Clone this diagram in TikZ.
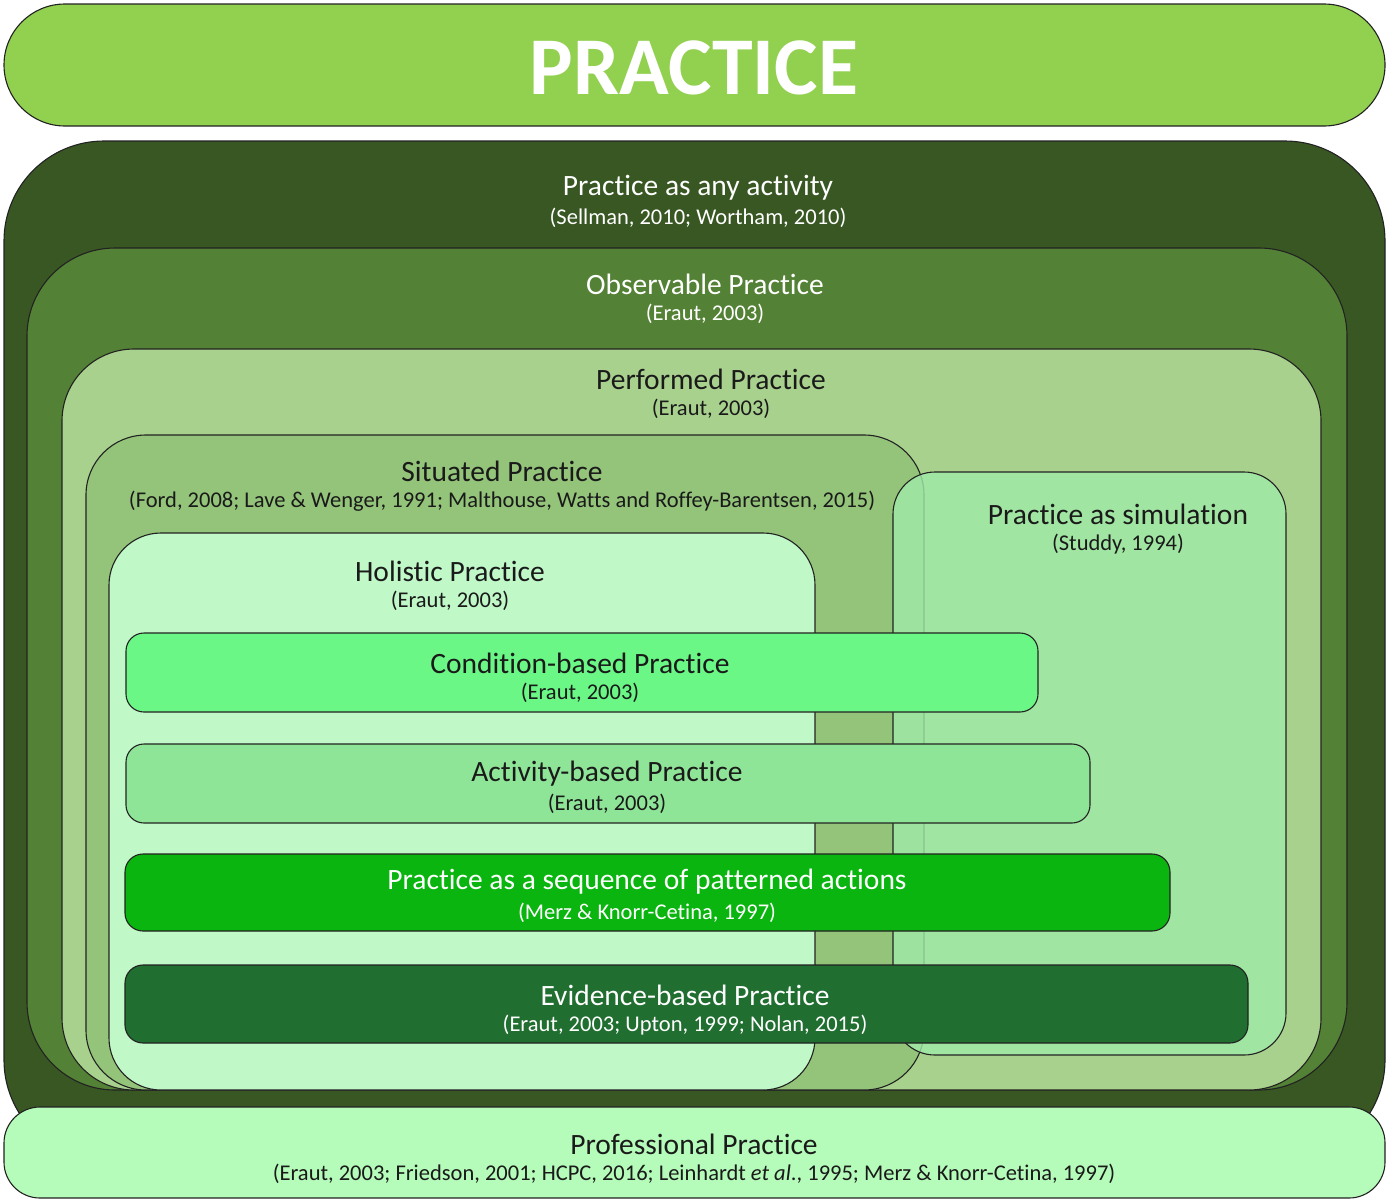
\documentclass[tikz,border=0pt]{standalone}
\usepackage{fontspec}
\setmainfont{Carlito}[Ligatures=NoCommon]
\definecolor{cBanner}{HTML}{92D050}
\definecolor{cAny}{HTML}{385723}
\definecolor{cObs}{HTML}{538135}
\definecolor{cPerf}{HTML}{A9D18E}
\definecolor{cSit}{HTML}{93C47A}
\definecolor{cHol}{HTML}{C0F8C8}
\definecolor{cSim}{RGB}{160,234,168}
\definecolor{cCond}{HTML}{6AF786}
\definecolor{cAct}{HTML}{8FE597}
\definecolor{cSeq}{HTML}{09B50E}
\definecolor{cEvid}{HTML}{206E30}
\definecolor{cProf}{HTML}{B5FBB9}
\definecolor{cLine}{HTML}{222222}
\definecolor{cTxt}{HTML}{1A1A1A}
\begin{document}
\begin{tikzpicture}[x=1pt,y=-1pt]
\tikzset{
  box/.style={draw=cLine, line width=1.1pt},
  ttl/.style={font=\fontsize{29.5}{33}\selectfont, anchor=center, inner sep=0pt, text=cTxt, yshift=-2pt},
  cit/.style={font=\fontsize{22.5}{26}\selectfont, anchor=center, inner sep=0pt, text=cTxt, yshift=-2pt},
  wht/.style={text=white},
}
\useasboundingbox (0,0) rectangle (1386,1200);
% banner
\draw[box, fill=cBanner, rounded corners=61pt] (4,4) rectangle (1385,126);
\node[font=\fontsize{82}{90}\selectfont\bfseries, text=white, inner sep=0pt] (banner) at (694,68) {PRACTICE};
% nested boxes
\draw[box, fill=cAny, rounded corners=100pt] (4,141) rectangle (1385,1160);
\draw[box, fill=cObs, rounded corners=88pt] (27,248) rectangle (1347,1090);
\draw[box, fill=cPerf, rounded corners=72pt] (62,349) rectangle (1321,1090);
\draw[box, fill=cSit, rounded corners=60pt] (86,435) rectangle (924,1090);
\draw[box, fill=cHol, rounded corners=52pt] (109,533) rectangle (815,1090);
\draw[box, fill=cSim, fill opacity=0.8, rounded corners=42pt] (893,472) rectangle (1286,1055);
% bars
\draw[box, fill=cCond, rounded corners=18pt] (126,633) rectangle (1038,712);
\draw[box, fill=cAct, rounded corners=18pt] (126,744) rectangle (1090,823);
\draw[box, fill=cSeq, rounded corners=18pt] (125,854) rectangle (1170,931);
\draw[box, fill=cEvid, rounded corners=18pt] (125,965) rectangle (1248,1043);
% professional
\draw[box, fill=cProf, rounded corners=36pt] (4,1107) rectangle (1385,1198);
% texts
\node[ttl, wht] (anyT) at (698,186) {Practice as any activity};
\node[cit, wht] (anyC) at (698,216) {(Sellman, 2010; Wortham, 2010)};
\node[ttl, wht] (obsT) at (705,282) {Observable Practice};
\node[cit, wht] (obsC) at (705,312) {(Eraut, 2003)};
\node[ttl] (perfT) at (711,377) {Performed Practice};
\node[cit] (perfC) at (711,407) {(Eraut, 2003)};
\node[ttl] (sitT) at (502,469) {Situated Practice};
\node[cit] (sitC) at (502,499) {(Ford, 2008; Lave \& Wenger, 1991; Malthouse, Watts and Roffey-Barentsen, 2015)};
\node[ttl] (holT) at (450,569) {Holistic Practice};
\node[cit] (holC) at (450,599) {(Eraut, 2003)};
\node[ttl] (simT) at (1118,512) {Practice as simulation};
\node[cit] (simC) at (1118,542) {(Studdy, 1994)};
\node[ttl] (condT) at (580,661) {Condition-based Practice};
\node[cit] (condC) at (580,691) {(Eraut, 2003)};
\node[ttl] (actT) at (607,772) {Activity-based Practice};
\node[cit] (actC) at (607,802) {(Eraut, 2003)};
\node[ttl, wht] (seqT) at (647,880) {Practice as a sequence of patterned actions};
\node[cit, wht] (seqC) at (647,911) {(Merz \& Knorr-Cetina, 1997)};
\node[ttl, wht] (evT) at (685,993) {Evidence-based Practice};
\node[cit, wht] (evC) at (685,1023) {(Eraut, 2003; Upton, 1999; Nolan, 2015)};
\node[ttl] (profT) at (694,1142) {Professional Practice};
\node[cit] (profC) at (694,1172) {(Eraut, 2003; Friedson, 2001; HCPC, 2016; Leinhardt \textit{et al}., 1995; Merz \& Knorr-Cetina, 1997)};
\end{tikzpicture}
\end{document}
